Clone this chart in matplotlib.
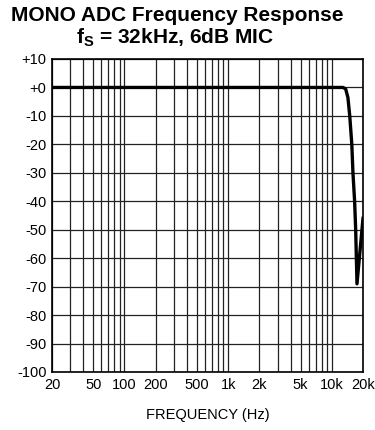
import numpy as np
import matplotlib.pyplot as plt
from matplotlib.ticker import FixedLocator, NullFormatter

plt.rcParams['font.family'] = ['Liberation Sans', 'DejaVu Sans']

# response curve
freq = [20, 100, 1000, 10000, 12800, 13600, 14300, 14900, 15600, 16000, 16600, 17000, 17500, 20000]
gain = [0, 0, 0, 0, 0, -0.5, -3.5, -10, -20, -30, -40, -50, -69, -46]

yticks = list(range(10, -101, -10))
ylabels = ['+10', '+0'] + [str(v) for v in yticks[2:]]
xticks = [20, 50, 100, 200, 500, 1000, 2000, 5000, 10000, 20000]
xlabels = ['20', '50', '100', '200', '500', '1k', '2k', '5k', '10k', '20k']

fig = plt.figure(figsize=(3.75, 4.3), dpi=100)
ax = fig.add_axes([52/375, 1 - 372/430, 311/375, 313/430])

ax.plot(freq, gain, color='black', lw=2.4, solid_joinstyle='round')

ax.set_xscale('log')
ax.set_xlim(20, 20000)
ax.set_ylim(-100, 10)

grid = []
for d in [10, 100, 1000, 10000]:
    for m in range(1, 10):
        v = m * d
        if 20 <= v <= 20000:
            grid.append(v)
ax.xaxis.set_major_locator(FixedLocator(xticks))
ax.xaxis.set_minor_locator(FixedLocator(grid))
ax.xaxis.set_minor_formatter(NullFormatter())
ax.set_xticklabels(xlabels)
ax.set_yticks(yticks)
ax.set_yticklabels(ylabels)

for v in grid:
    ax.axvline(v, color='#222222', lw=0.9, zorder=0)
for v in yticks:
    ax.axhline(v, color='#222222', lw=0.9, zorder=0)

ax.tick_params(which='both', length=0, labelsize=10.5, pad=4)
for s in ax.spines.values():
    s.set_linewidth(1.2)

ax.set_xlabel('FREQUENCY (Hz)', fontsize=10.5, labelpad=12)

fig.text(0.472, 1 - 21/430, 'MONO ADC Frequency Response', ha='center', va='baseline',
         fontsize=15, fontweight='bold')
fig.text(0.468, 1 - 43/430, r'f$_\mathregular{S}$ = 32kHz, 6dB MIC', ha='center', va='baseline',
         fontsize=15, fontweight='bold')

fig.savefig('out.png', dpi=100)
